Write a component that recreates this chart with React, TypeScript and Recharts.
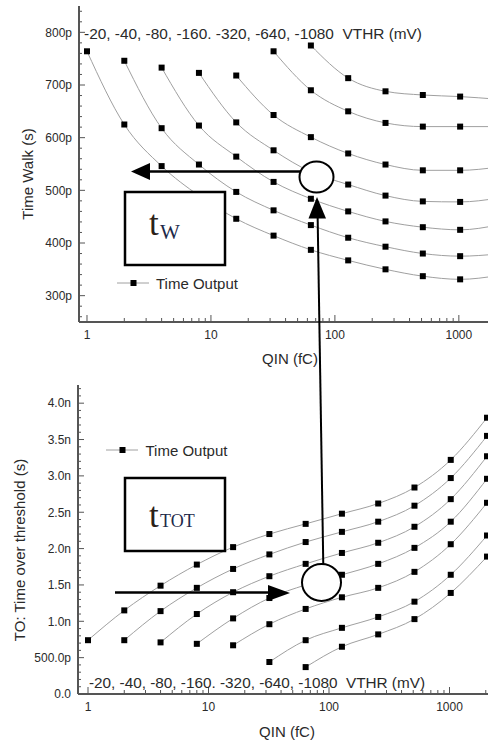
import React from "react";
import { LineChart, Line, XAxis, YAxis, Legend } from "recharts";

// charge injected, fC (log axis)
const QIN = [1, 2, 4, 8, 16, 32, 64, 128, 256, 512, 1024, 2048];
// one curve per threshold setting, mV
const VTHR = [-20, -40, -80, -160, -320, -640, -1080];

// time walk, ps (null = no point on that curve)
const WALK_20 = [764, 625, 546, 490, 446, 414, 387, 367, 350, 337, 331, 338];
const WALK_40 = [null, 746, 618, 549, 497, 462, 434, 410, 393, 380, 375, 379];
const WALK_80 = [null, null, 733, 623, 564, 516, 484, 460, 441, 430, 425, 434];
const WALK_160 = [null, null, null, 723, 629, 576, 535, 511, 490, 479, 478, 485];
const WALK_320 = [null, null, null, null, 718, 643, 601, 570, 549, 538, 538, 544];
const WALK_640 = [null, null, null, null, null, 764, 690, 650, 628, 621, 621, 621];
const WALK_1080 = [null, null, null, null, null, null, 775, 713, 688, 681, 678, 673];

// time over threshold, ns
const TOT_20 = [0.74, 1.15, 1.49, 1.78, 2.02, 2.2, 2.34, 2.48, 2.62, 2.84, 3.22, 3.8];
const TOT_40 = [null, 0.74, 1.14, 1.46, 1.72, 1.92, 2.09, 2.23, 2.37, 2.59, 2.97, 3.55];
const TOT_80 = [null, null, 0.71, 1.1, 1.4, 1.62, 1.79, 1.94, 2.08, 2.3, 2.68, 3.27];
const TOT_160 = [null, null, null, 0.69, 1.04, 1.32, 1.5, 1.64, 1.79, 2.01, 2.37, 2.96];
const TOT_320 = [null, null, null, null, 0.67, 0.96, 1.17, 1.33, 1.46, 1.68, 2.06, 2.63];
const TOT_640 = [null, null, null, null, null, 0.44, 0.74, 0.91, 1.06, 1.27, 1.64, 2.18];
const TOT_1080 = [null, null, null, null, null, null, 0.37, 0.65, 0.82, 1.03, 1.39, 1.89];

// labelled ticks
const Q_LABELS = [1, 10, 100, 1000];
const WALK_LABELS = [300, 400, 500, 600, 700, 800];
const TOT_LABELS = [0, 0.5, 1, 1.5, 2, 2.5, 3, 3.5, 4];

const VTHR_TEXT = "-20, -40, -80, -160. -320, -640, -1080  VTHR (mV)";

// minor ticks
const Q_TICKS = [1, 10, 100, 1000]
  .flatMap((d) => [1, 2, 3, 4, 5, 6, 7, 8, 9].map((k) => k * d))
  .filter((v) => v <= 3000);
const WALK_TICKS = Array.from({ length: 30 }, (_, i) => 260 + 20 * i);
const TOT_TICKS = Array.from({ length: 43 }, (_, i) => i / 10);

const toSeries = (rows: (number | null)[][]) =>
  VTHR.map((vt, i) => ({
    name: `${vt} mV`,
    points: QIN.map((q, j) => ({ q, v: rows[i][j] })).filter((p) => p.v != null),
  }));

const walkSeries = toSeries([WALK_20, WALK_40, WALK_80, WALK_160, WALK_320, WALK_640, WALK_1080]);
const totSeries = toSeries([TOT_20, TOT_40, TOT_80, TOT_160, TOT_320, TOT_640, TOT_1080]);

const FONT = "'Liberation Sans', Arial, Helvetica, sans-serif";
const SERIF = "'Liberation Serif', 'Times New Roman', serif";
const FRAME = "#555";
const INK = "#2a2a2a";
const CURVE = "#a0a0a0";
const GAP = 2; // tickMargin of every axis, lets the tick find its axis line
const AXIS_LINE = { stroke: FRAME, strokeWidth: 2 };

const fmtWalk = (v: number) => `${v}p`;
const fmtTot = (v: number) =>
  v === 0 ? "0.0" : v < 1 ? `${(v * 1000).toFixed(1)}p` : `${v.toFixed(1)}n`;
const isLabel = (labels: number[], v: number) => labels.some((l) => Math.abs(l - v) < 1e-6);

function BottomTick(props: any) {
  const { x, y, payload, labels } = props;
  const axisY = y - GAP;
  const major = isLabel(labels, payload.value);
  return (
    <g>
      <line x1={x} x2={x} y1={axisY} y2={axisY - (major ? 7 : 4)} stroke={FRAME} strokeWidth={1} />
      {major && (
        <text x={x} y={axisY + 16.5} textAnchor="middle" fontSize={12} fill={INK} fontFamily={FONT}>
          {payload.value}
        </text>
      )}
    </g>
  );
}

function TopTick(props: any) {
  const { x, y, payload, labels } = props;
  const axisY = y + GAP;
  const major = isLabel(labels, payload.value);
  return <line x1={x} x2={x} y1={axisY} y2={axisY + (major ? 6 : 3)} stroke={FRAME} strokeWidth={1} />;
}

function LeftTick(props: any) {
  const { x, y, payload, labels, format } = props;
  const axisX = x + GAP;
  const major = isLabel(labels, payload.value);
  return (
    <g>
      <line x1={axisX} x2={axisX + (major ? 6 : 3)} y1={y} y2={y} stroke={FRAME} strokeWidth={1} />
      {major && (
        <text x={axisX - 7} y={y + 4.3} textAnchor="end" fontSize={12} fill={INK} fontFamily={FONT}>
          {format(payload.value)}
        </text>
      )}
    </g>
  );
}

const SquareDot = (props: any) => {
  const { cx, cy, index } = props;
  if (cx == null || cy == null) return <g key={index} />;
  return <rect key={index} x={cx - 3} y={cy - 3} width={6} height={6} fill="#000" />;
};

function TimeOutputKey() {
  return (
    <div style={{ display: "flex", alignItems: "center", fontFamily: FONT, fontSize: 15, color: INK, whiteSpace: "nowrap" }}>
      <svg width={32} height={12}>
        <line x1={0} x2={32} y1={6} y2={6} stroke={CURVE} strokeWidth={1} />
        <rect x={13.5} y={3} width={6} height={6} fill="#000" />
      </svg>
      <span style={{ marginLeft: 7.5 }}>Time Output</span>
    </div>
  );
}

function WalkChart() {
  return (
    <LineChart width={530} height={370} margin={{ top: 6, right: 12, bottom: 0, left: 0 }} style={{ fontFamily: FONT }}>
      <XAxis
        dataKey="q" type="number" scale="log" domain={[0.862, 3000]} allowDataOverflow
        ticks={Q_TICKS} interval={0} height={48} tickSize={0} tickMargin={GAP} tickLine={false}
        axisLine={AXIS_LINE} tick={<BottomTick labels={Q_LABELS} />}
      />
      <XAxis
        xAxisId="top" orientation="top" dataKey="q" type="number" scale="log" domain={[0.862, 3000]} allowDataOverflow
        ticks={Q_TICKS} interval={0} height={0} tickSize={0} tickMargin={GAP} tickLine={false}
        axisLine={AXIS_LINE} tick={<TopTick labels={Q_LABELS} />}
      />
      <YAxis
        type="number" domain={[250, 850]} allowDataOverflow ticks={WALK_TICKS} interval={0}
        width={79} tickSize={0} tickMargin={GAP} tickLine={false} axisLine={AXIS_LINE}
        tick={<LeftTick labels={WALK_LABELS} format={fmtWalk} />}
      />
      {walkSeries.map((s) => (
        <Line
          key={s.name} name={s.name} data={s.points} dataKey="v" type="monotone"
          stroke={CURVE} strokeWidth={1} dot={SquareDot} activeDot={false} isAnimationActive={false}
        />
      ))}
      <Legend
        layout="horizontal" verticalAlign="middle" align="center"
        wrapperStyle={{ left: 116.5, top: 274.5, width: "auto" }}
        content={() => <TimeOutputKey />}
      />
    </LineChart>
  );
}

function TotChart() {
  return (
    <LineChart width={519} height={371} margin={{ top: 15, right: 12, bottom: 0, left: 0 }} style={{ fontFamily: FONT }}>
      <XAxis
        dataKey="q" type="number" scale="log" domain={[0.826, 3000]} allowDataOverflow
        ticks={Q_TICKS} interval={0} height={47} tickSize={0} tickMargin={GAP} tickLine={false}
        axisLine={AXIS_LINE} tick={<BottomTick labels={Q_LABELS} />}
      />
      <XAxis
        xAxisId="top" orientation="top" dataKey="q" type="number" scale="log" domain={[0.826, 3000]} allowDataOverflow
        ticks={Q_TICKS} interval={0} height={0} tickSize={0} tickMargin={GAP} tickLine={false}
        axisLine={AXIS_LINE} tick={<TopTick labels={Q_LABELS} />}
      />
      <YAxis
        type="number" domain={[0, 4.25]} allowDataOverflow ticks={TOT_TICKS} interval={0}
        width={78} tickSize={0} tickMargin={GAP} tickLine={false} axisLine={AXIS_LINE}
        tick={<LeftTick labels={TOT_LABELS} format={fmtTot} />}
      />
      {totSeries.map((s) => (
        <Line
          key={s.name} name={s.name} data={s.points} dataKey="v" type="monotone"
          stroke={CURVE} strokeWidth={1} dot={SquareDot} activeDot={false} isAnimationActive={false}
        />
      ))}
      <Legend
        layout="horizontal" verticalAlign="middle" align="center"
        wrapperStyle={{ left: 106, top: 71.5, width: "auto" }}
        content={() => <TimeOutputKey />}
      />
    </LineChart>
  );
}

// boxes, circles, arrows and the free text laid over both plots
function Annotations() {
  const txt = { fontFamily: FONT, fontSize: 15, fill: INK } as const;
  return (
    <svg width={488} height={741} style={{ position: "absolute", left: 0, top: 0, pointerEvents: "none" }}>
      <text {...txt} x={84} y={38.5} textLength={338} lengthAdjust="spacingAndGlyphs" style={{ whiteSpace: "pre" }}>
        {VTHR_TEXT}
      </text>
      <text {...txt} x={89} y={688} textLength={336} lengthAdjust="spacingAndGlyphs" style={{ whiteSpace: "pre" }}>
        {VTHR_TEXT}
      </text>

      <text {...txt} x={290} y={364} textAnchor="middle">QIN (fC)</text>
      <text {...txt} x={287} y={737} textAnchor="middle">QIN (fC)</text>
      <text {...txt} x={33} y={174} textAnchor="middle" transform="rotate(-90 33 174)">Time Walk (s)</text>
      <text {...txt} x={24.5} y={550} textAnchor="middle" transform="rotate(-90 24.5 550)">
        TO: Time over threshold (s)
      </text>

      <rect x={125} y={192} width={100} height={73} fill="#fff" stroke="#000" strokeWidth={2.5} />
      <text x={149} y={235} fontFamily={SERIF} fontSize={35} fill="#2b2118">t</text>
      <text x={160} y={239} fontFamily={SERIF} fontSize={21} fill="#1d2a4a">W</text>

      <rect x={125} y={478} width={100} height={73} fill="#fff" stroke="#000" strokeWidth={2.5} />
      <text x={149} y={527} fontFamily={SERIF} fontSize={35} fill="#2b2118">t</text>
      <text x={160} y={527} fontFamily={SERIF} fontSize={18} fill="#1d2a4a">TOT</text>

      <line x1={300} y1={171.5} x2={148} y2={171.5} stroke="#000" strokeWidth={2.5} />
      <polygon points="131,171.5 150,163 150,180" fill="#000" />

      <line x1={323.3} y1={566} x2={317.6} y2={214} stroke="#000" strokeWidth={2} />
      <polygon points="317,197 308.5,218.5 326,218.5" fill="#000" />

      <line x1={115} y1={592.5} x2={272} y2={592.5} stroke="#000" strokeWidth={2.5} />
      <polygon points="290,593 268,585 268,601" fill="#000" />

      <ellipse cx={316.5} cy={177} rx={17} ry={15.5} fill="#fff" stroke="#000" strokeWidth={2} />
      <ellipse cx={321.5} cy={582.5} rx={19.5} ry={18.5} fill="#fff" stroke="#000" strokeWidth={2} />
    </svg>
  );
}

export default function App() {
  return (
    <div style={{ position: "fixed", left: 0, top: 0, width: 488, height: 741, overflow: "hidden", background: "#fff" }}>
      <div style={{ position: "absolute", left: 0, top: 0 }}>
        <WalkChart />
      </div>
      <div style={{ position: "absolute", left: 0, top: 370 }}>
        <TotChart />
      </div>
      <Annotations />
    </div>
  );
}
